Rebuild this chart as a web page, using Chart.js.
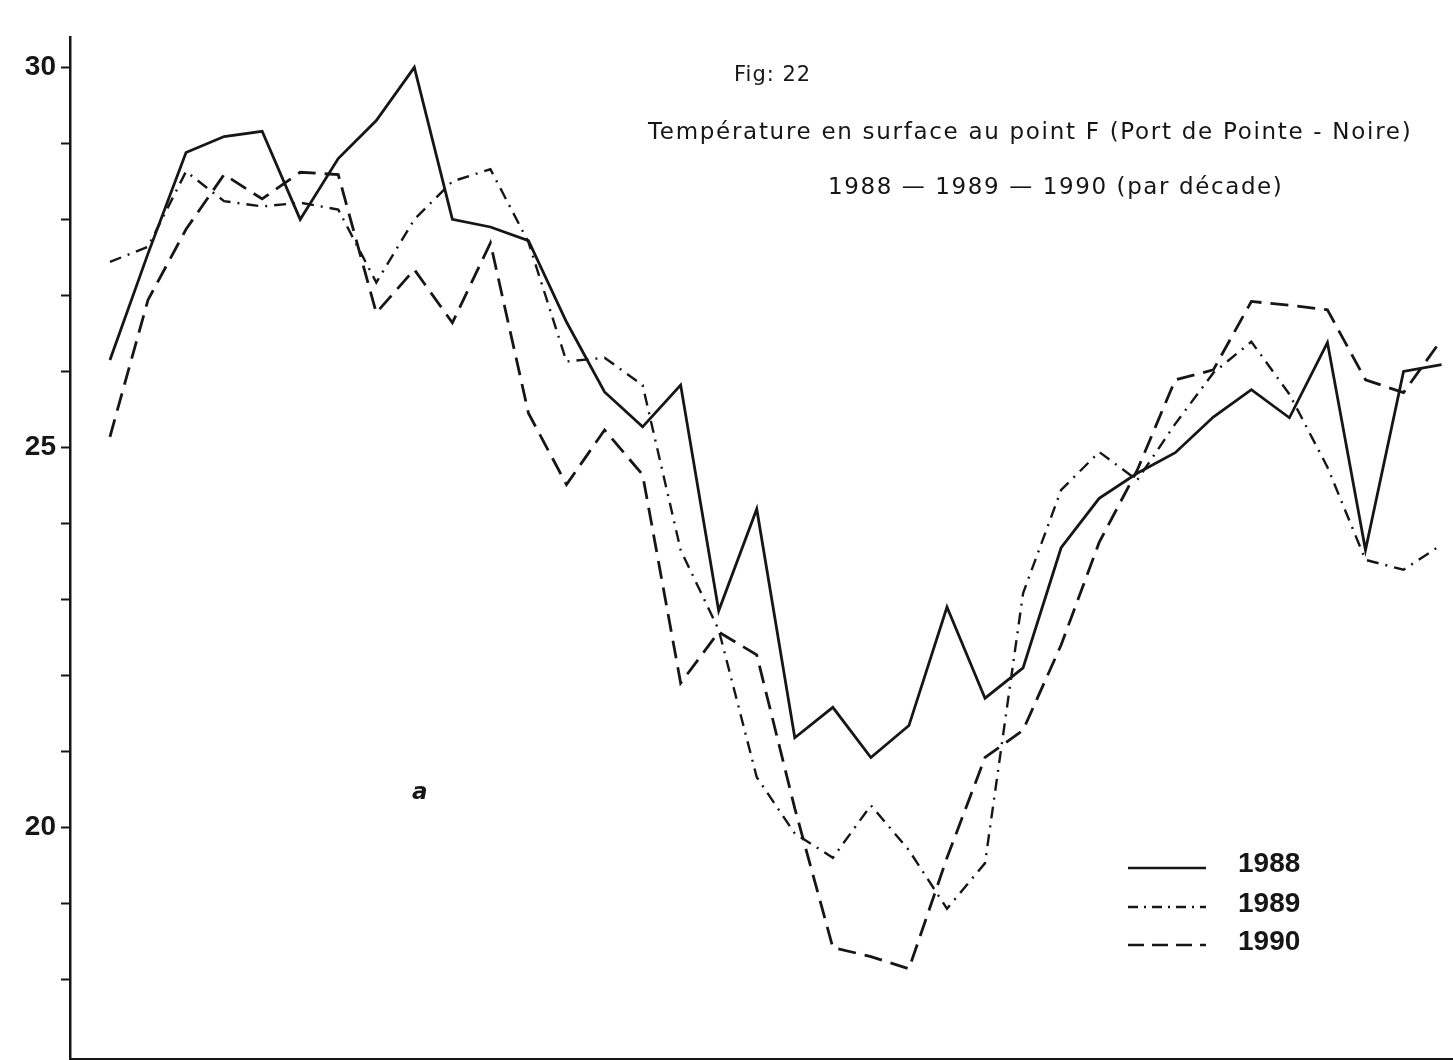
<!DOCTYPE html>
<html>
<head>
<meta charset="utf-8">
<title>Fig 22 - Température en surface au point F</title>
<script src="https://cdn.jsdelivr.net/npm/chart.js@4.4.1/dist/chart.umd.min.js"></script>
<style>
  html, body { margin: 0; padding: 0; background: #fff; }
  #wrap { position: relative; width: 1453px; height: 1060px; overflow: hidden; }
  #chart { position: absolute; left: 0; top: 0; }
  .txt { position: absolute; color: #161616; font-family: "DejaVu Sans", sans-serif; white-space: nowrap; line-height: 1; }
  .leg { position: absolute; left: 1126px; }
  .legtxt { position: absolute; left: 1238px; font-family: "Liberation Sans", sans-serif; font-weight: bold; font-size: 28px; color: #161616; line-height: 1; }
</style>
</head>
<body>
<div id="wrap">
  <canvas id="chart" width="1453" height="1081"></canvas>

  <div class="txt" style="left:734px; top:64px; font-size:21px; letter-spacing:1px;">Fig: 22</div>
  <div class="txt" style="left:648px; top:120px; font-size:23px; letter-spacing:1.7px;">Température en surface au point F (Port de Pointe - Noire)</div>
  <div class="txt" style="left:828px; top:175px; font-size:23px; letter-spacing:1.6px;">1988 — 1989 — 1990 (par décade)</div>
  <div class="txt" style="left:412px; top:780px; font-size:23px; font-weight:bold; font-style:italic;">a</div>

  <svg class="leg" style="top:860px" width="82" height="16"><line x1="2" y1="8" x2="80" y2="8" stroke="#161616" stroke-width="2.5"/></svg>
  <svg class="leg" style="top:899px" width="82" height="16"><line x1="2" y1="8" x2="80" y2="8" stroke="#161616" stroke-width="2.5" stroke-dasharray="10,6,2,6"/></svg>
  <svg class="leg" style="top:937px" width="82" height="16"><line x1="2" y1="8" x2="80" y2="8" stroke="#161616" stroke-width="2.5" stroke-dasharray="16,8"/></svg>
  <div class="legtxt" style="top:849px">1988</div>
  <div class="legtxt" style="top:889px">1989</div>
  <div class="legtxt" style="top:927px">1990</div>
</div>

<script>
// decades of the year (3 per month)
const decades = [1, 2, 3, 4, 5, 6, 7, 8, 9, 10, 11, 12,
                 13, 14, 15, 16, 17, 18, 19, 20, 21, 22, 23, 24,
                 25, 26, 27, 28, 29, 30, 31, 32, 33, 34, 35, 36];

// surface temperature (°C)
const temp1988 = [26.15, 27.55, 28.88, 29.09, 29.16, 28.0, 28.8, 29.3, 30.0, 28.0, 27.9, 27.72,
                  26.65, 25.73, 25.27, 25.82, 22.85, 24.19, 21.18, 21.58, 20.92, 21.34, 22.9, 21.7,
                  22.1, 23.68, 24.33, 24.66, 24.93, 25.4, 25.76, 25.39, 26.38, 23.65, 26.0, 26.09];

const temp1989 = [27.44, 27.64, 28.63, 28.24, 28.17, 28.22, 28.13, 27.17, 28.0, 28.5, 28.66, 27.7,
                  26.13, 26.18, 25.82, 23.65, 22.6, 20.66, 19.92, 19.6, 20.29, 19.7, 18.93, 19.53,
                  23.08, 24.44, 24.94, 24.57, 25.31, 25.98, 26.39, 25.7, 24.74, 23.52, 23.39, 23.72];

const temp1990 = [25.14, 26.94, 27.87, 28.59, 28.27, 28.62, 28.59, 26.77, 27.34, 26.64, 27.69, 25.45,
                  24.51, 25.23, 24.64, 21.9, 22.57, 22.27, 20.25, 18.42, 18.3, 18.14, 19.6, 20.92,
                  21.28, 22.4, 23.75, 24.7, 25.89, 26.02, 26.92, 26.87, 26.81, 25.89, 25.72, 26.42];

const yTickValues = [18, 19, 20, 21, 22, 23, 24, 25, 26, 27, 28, 29, 30];
const yLabelValues = [20, 25, 30];

const ink = "#161616";

function toPoints(values) {
    return decades.map((d, i) => ({ x: d, y: values[i] }));
}

const ctx = document.getElementById("chart").getContext("2d");

new Chart(ctx, {
    type: "line",
    data: {
        datasets: [
            {
                label: "1988",
                data: toPoints(temp1988),
                borderColor: ink,
                borderWidth: 2.8
            },
            {
                label: "1989",
                data: toPoints(temp1989),
                borderColor: ink,
                borderWidth: 2.4,
                borderDash: [12, 7, 2, 7]
            },
            {
                label: "1990",
                data: toPoints(temp1990),
                borderColor: ink,
                borderWidth: 2.8,
                borderDash: [18, 9]
            }
        ]
    },
    options: {
        responsive: false,
        animation: false,
        devicePixelRatio: 1,
        layout: { padding: { top: 37, right: 0, bottom: 0, left: 0 } },
        plugins: {
            legend: { display: false },
            tooltip: { enabled: false }
        },
        elements: {
            point: { radius: 0 },
            line: { tension: 0, fill: false, borderJoinStyle: "miter" }
        },
        scales: {
            x: {
                type: "linear",
                min: -0.05,
                max: 36.3,
                grid: { display: false, drawTicks: false },
                ticks: { display: false },
                border: { color: ink, width: 2.5 },
                afterFit(scale) { scale.height = 2; }
            },
            y: {
                type: "linear",
                min: 16.95,
                max: 30.4,
                afterBuildTicks(scale) {
                    scale.ticks = yTickValues.map(v => ({ value: v }));
                },
                ticks: {
                    color: ink,
                    padding: 5,
                    font: { family: "Liberation Sans", weight: "bold", size: 28 },
                    callback(value) {
                        return yLabelValues.includes(value) ? String(value) : "";
                    }
                },
                grid: { drawOnChartArea: false, tickLength: 9, tickColor: ink, tickWidth: 2 },
                border: { color: ink, width: 2.5 },
                afterFit(scale) { scale.width = 70; }
            }
        }
    }
});
</script>
</body>
</html>
